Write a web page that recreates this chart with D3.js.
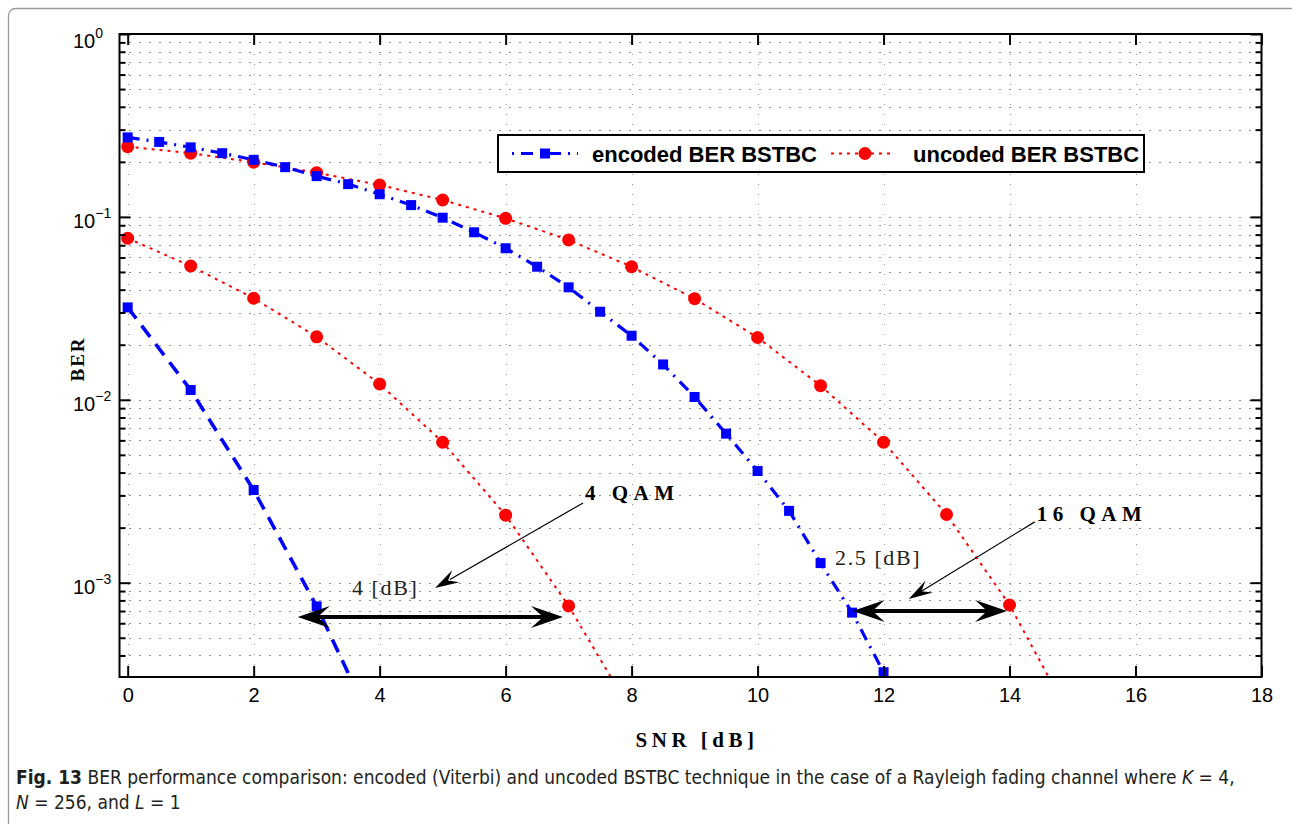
<!DOCTYPE html>
<html><head><meta charset="utf-8">
<script src="https://cdn.jsdelivr.net/npm/d3@7"></script>
<style>body{margin:0;background:#fff}svg{display:block}</style>
</head><body>
<svg id="c" width="1292" height="824"></svg>
<script>
// ---------------- data ----------------
const snrEnc16 = [0,0.5,1,1.5,2,2.5,3,3.5,4,4.5,5,5.5,6,6.5,7,7.5,8,8.5,9,9.5,10,10.5,11,11.5,12];
const berEnc16 = [0.272,0.257,0.240,0.223,0.205,0.187,0.167,0.151,0.133,0.116,0.099,0.0824,0.0674,0.0534,0.0412,0.0303,0.0224,0.0156,0.01036,0.00653,0.00408,0.00247,0.00128,0.000686,0.000324];
const snrEnc4 = [0,1,2,3,4];
const berEnc4 = [0.0320,0.01131,0.00321,0.000742,0.000139];
const snrUnc16 = [0,1,2,3,4,5,6,7,8,9,10,11,12,13,14,15];
const berUnc16 = [0.242,0.223,0.199,0.1745,0.1494,0.1237,0.0982,0.0748,0.0534,0.0357,0.0219,0.01194,0.00586,0.00236,0.000755,0.000175];
const snrUnc4 = [0,1,2,3,4,5,6,7,8];
const berUnc4 = [0.0764,0.0539,0.0359,0.0221,0.0122,0.00586,0.00234,0.000746,0.000196];

const xTicks = [0,2,4,6,8,10,12,14,16,18];
const yTicks = [1e-3,1e-2,1e-1,1];
const yTickExp = ["\u22123","\u22122","\u22121","0"];
const legendLabels = ["encoded BER BSTBC","uncoded BER BSTBC"];

// annotations (data coordinates)
const dblArrows = [[2.70,6.91,6.49e-4],[11.51,13.96,7.0e-4]];
const thinArrows = [[7.23,2.73e-3,4.88,9.35e-4],[14.40,2.15e-3,12.40,8.14e-4]];
const boldNotes = [[7.26,2.83e-3,"4 QAM"],[14.43,2.17e-3,"16 QAM"]];
const dbNotes = [[3.56,8.57e-4,"4 [dB]"],[11.23,1.25e-3,"2.5 [dB]"]];

// ---------------- layout ----------------
const svg = d3.select("#c");
const L = 119.5, R = 1261.5, T = 34, B = 677;
const x = d3.scaleLinear().domain([-0.13,18]).range([L,R]);
const y = d3.scaleLog().domain([3.05e-4,1]).range([B,T]);

// frame
svg.append("rect").attr("x",8.5).attr("y",8.5).attr("width",1300).attr("height",840)
  .attr("rx",7).attr("fill","none").attr("stroke","#9a9a9a").attr("stroke-width",1.3);

// minor values
const yAll = [];
for (let e=-4;e<=0;e++) for (let k=1;k<=9;k++){ const v=k*Math.pow(10,e); if(v>=3.05e-4 && v<=1.0000001) yAll.push(v); }
const yMinor = yAll.filter(v=>!yTicks.some(t=>Math.abs(t-v)/v<1e-9));

// grid
const grid = svg.append("g");
grid.selectAll("line.h").data(yAll).join("line").attr("class","h")
  .attr("x1",L).attr("x2",R).attr("y1",d=>Math.round(y(d))+0.5).attr("y2",d=>Math.round(y(d))+0.5)
  .attr("stroke","#222").attr("stroke-width",1).attr("stroke-dasharray","1,9");
grid.selectAll("line.v").data(xTicks).join("line").attr("class","v")
  .attr("x1",d=>Math.round(x(d))+0.5).attr("x2",d=>Math.round(x(d))+0.5).attr("y1",T).attr("y2",B)
  .attr("stroke","#999").attr("stroke-width",1).attr("stroke-dasharray","1,9");

// clip
svg.append("clipPath").attr("id","pc").append("rect").attr("x",L).attr("y",T).attr("width",R-L).attr("height",B-T);
const plot = svg.append("g").attr("clip-path","url(#pc)");
const line = d3.line().x(d=>x(d[0])).y(d=>y(d[1]));
const zip = (a,b)=>a.map((v,i)=>[v,b[i]]);

const series = [
  {d:zip(snrUnc16,berUnc16), c:"#ff0000", w:2, dash:"3,5", m:"circle"},
  {d:zip(snrUnc4,berUnc4), c:"#ff0000", w:2, dash:"3,5", m:"circle"},
  {d:zip(snrEnc16,berEnc16), c:"#0000ff", w:3.2, dash:"12,7,2,7", m:"square"},
  {d:zip(snrEnc4,berEnc4), c:"#0000ff", w:3.6, dash:"14,9", m:"square"}
];
series.forEach(s=>{
  plot.append("path").datum(s.d).attr("d",line).attr("fill","none")
    .attr("stroke",s.c).attr("stroke-width",s.w).attr("stroke-dasharray",s.dash);
});
series.forEach(s=>{
  if (s.m==="circle") {
    plot.selectAll(null).data(s.d).join("circle").attr("cx",d=>x(d[0])).attr("cy",d=>y(d[1]))
      .attr("r",6.5).attr("fill",s.c);
  } else {
    plot.selectAll(null).data(s.d).join("rect").attr("x",d=>x(d[0])-5).attr("y",d=>y(d[1])-5)
      .attr("width",10).attr("height",10).attr("fill",s.c);
  }
});

// axes
svg.append("rect").attr("x",L).attr("y",T).attr("width",R-L).attr("height",B-T)
  .attr("fill","none").attr("stroke","#000").attr("stroke-width",2);
const styleAxis = g => { g.select(".domain").remove(); g.selectAll(".tick line").attr("stroke","#000").attr("stroke-width",2); };
const axB = svg.append("g").attr("transform",`translate(0,${B})`)
  .call(d3.axisBottom(x).tickValues(xTicks).tickSize(-11).tickPadding(11).tickFormat(d3.format("d")));
styleAxis(axB);
axB.selectAll(".tick text").attr("font-family","'Liberation Sans',Arial,sans-serif").attr("font-size",20).attr("fill","#000");
const axT = svg.append("g").attr("transform",`translate(0,${T})`)
  .call(d3.axisTop(x).tickValues(xTicks).tickSize(-11).tickFormat(""));
styleAxis(axT);
const axL = svg.append("g").attr("transform",`translate(${L},0)`)
  .call(d3.axisLeft(y).tickValues(yTicks).tickSize(-11).tickFormat(""));
styleAxis(axL);
const axLm = svg.append("g").attr("transform",`translate(${L},0)`)
  .call(d3.axisLeft(y).tickValues(yMinor).tickSize(-6).tickFormat(""));
styleAxis(axLm);
const axR = svg.append("g").attr("transform",`translate(${R},0)`)
  .call(d3.axisRight(y).tickValues(yTicks).tickSize(-11).tickFormat(""));
styleAxis(axR);
const axRm = svg.append("g").attr("transform",`translate(${R},0)`)
  .call(d3.axisRight(y).tickValues(yMinor).tickSize(-6).tickFormat(""));
styleAxis(axRm);

// y tick labels 10^n
const yl = svg.append("g").attr("font-family","'Liberation Sans',Arial,sans-serif").attr("fill","#000");
yTicks.forEach((v,i)=>{
  const t = yl.append("text").attr("x",73).attr("y",y(v)+(i===3?14:11)).attr("font-size",20).text("10");
  t.append("tspan").attr("dy",-10).attr("font-size",14).text(yTickExp[i]);
});

// axis titles
svg.append("text").attr("x",697).attr("y",747).attr("text-anchor","middle")
  .attr("font-family","'Liberation Serif','Times New Roman',serif").attr("font-weight","bold")
  .attr("font-size",21).attr("letter-spacing",4.5).text("SNR [dB]");
svg.append("text").attr("transform","translate(84,359) rotate(-90)").attr("text-anchor","middle")
  .attr("font-family","'Liberation Serif','Times New Roman',serif").attr("font-weight","bold")
  .attr("font-size",19).attr("letter-spacing",2).text("BER");

// legend
const lg = svg.append("g");
lg.append("rect").attr("x",498).attr("y",135).attr("width",646).attr("height",37)
  .attr("fill","#fff").attr("stroke","#000").attr("stroke-width",2);
const ly = 153.5;
lg.append("line").attr("x1",512).attr("x2",578).attr("y1",ly).attr("y2",ly)
  .attr("stroke","#0000ff").attr("stroke-width",3.2).attr("stroke-dasharray","2,7,12,7");
lg.append("rect").attr("x",540).attr("y",ly-5).attr("width",10).attr("height",10).attr("fill","#0000ff");
lg.append("line").attr("x1",831).attr("x2",895).attr("y1",ly).attr("y2",ly)
  .attr("stroke","#ff0000").attr("stroke-width",2).attr("stroke-dasharray","3,5");
lg.append("circle").attr("cx",865).attr("cy",ly).attr("r",6.5).attr("fill","#ff0000");
lg.selectAll("text").data(legendLabels).join("text")
  .attr("x",(d,i)=>i===0?592:913).attr("y",ly+8)
  .attr("font-family","'Liberation Sans',Arial,sans-serif").attr("font-weight","bold").attr("font-size",22)
  .text(d=>d);

// annotations
function head(g, x1,y1, x2,y2, len, w){
  const a = Math.atan2(y2-y1,x2-x1), c=Math.cos(a), s=Math.sin(a);
  const p = (u,v)=>[x2 + u*c - v*s, y2 + u*s + v*c];
  const pts = [p(0,0),p(-len,w),p(-len*0.62,0),p(-len,-w)];
  g.append("path").attr("d","M"+pts.map(q=>q.join(",")).join("L")+"Z").attr("fill","#000");
}
const an = svg.append("g");
dblArrows.forEach(a=>{
  const x1=x(a[0]), x2=x(a[1]), yy=y(a[2]);
  an.append("line").attr("x1",x1+15).attr("x2",x2-15).attr("y1",yy).attr("y2",yy).attr("stroke","#000").attr("stroke-width",4);
  head(an,x1+40,yy,x1,yy,32,11);
  head(an,x2-40,yy,x2,yy,32,11);
});
thinArrows.forEach(a=>{
  const x1=x(a[0]),y1=y(a[1]),x2=x(a[2]),y2=y(a[3]);
  an.append("line").attr("x1",x1).attr("y1",y1).attr("x2",x2+(x1-x2)*0.1).attr("y2",y2+(y1-y2)*0.1).attr("stroke","#000").attr("stroke-width",1.2);
  head(an,x1,y1,x2,y2,24,7);
});
boldNotes.forEach(n=>{
  an.append("text").attr("x",x(n[0])).attr("y",y(n[1]))
    .attr("font-family","'Liberation Serif','Times New Roman',serif").attr("font-weight","bold")
    .attr("font-size",21).attr("letter-spacing",5.5).text(n[2]);
});
dbNotes.forEach(n=>{
  an.append("text").attr("x",x(n[0])).attr("y",y(n[1]))
    .attr("font-family","'Liberation Serif','Times New Roman',serif")
    .attr("font-size",22).attr("letter-spacing",1.6).attr("fill","#222").text(n[2]);
});

// caption
const cap = svg.append("g").attr("font-family","'Liberation Sans Narrow','Arial Narrow','DejaVu Sans Condensed',sans-serif")
  .attr("font-size",19).attr("fill","#231f20");
const c1 = cap.append("text").attr("x",16).attr("y",784);
c1.append("tspan").attr("font-weight","bold").text("Fig. 13");
c1.append("tspan").text(" BER performance comparison: encoded (Viterbi) and uncoded BSTBC technique in the case of a Rayleigh fading channel where ");
c1.append("tspan").attr("font-style","italic").text("K");
c1.append("tspan").text(" = 4,");
const c2 = cap.append("text").attr("x",16).attr("y",809);
c2.append("tspan").attr("font-style","italic").text("N");
c2.append("tspan").text(" = 256, and ");
c2.append("tspan").attr("font-style","italic").text("L");
c2.append("tspan").text(" = 1");
</script>
</body></html>
